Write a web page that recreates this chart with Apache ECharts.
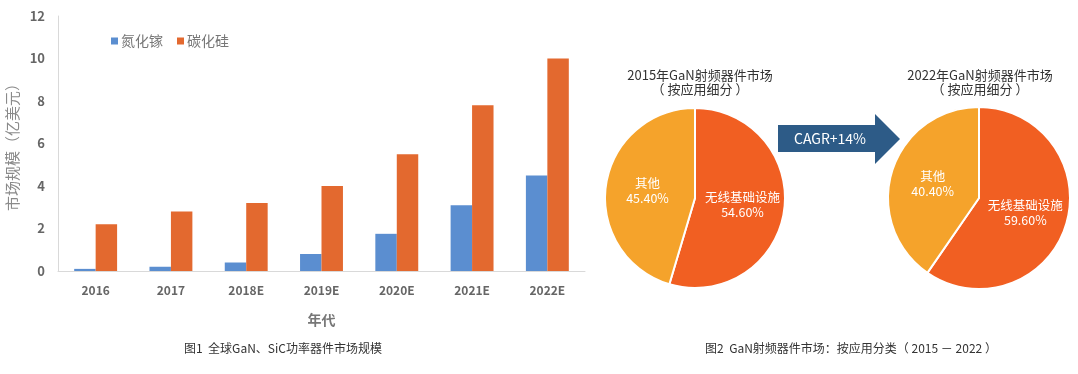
<!DOCTYPE html>
<html><head><meta charset="utf-8">
<script src="https://cdn.jsdelivr.net/npm/echarts@6/dist/echarts.min.js"></script>
<style>html,body{margin:0;padding:0;background:#fff}#c{width:1078px;height:374px}</style>
</head><body><div id="c"></div>
<script>
const categories = ['2016','2017','2018E','2019E','2020E','2021E','2022E'];
const ganValues = [0.1, 0.2, 0.4, 0.8, 1.75, 3.1, 4.5];
const sicValues = [2.2, 2.8, 3.2, 4.0, 5.5, 7.8, 10.0];
const seriesNames = ['氮化镓','碳化硅'];
const pie2015 = [{name:'无线基础设施', value:54.6},{name:'其他', value:45.4}];
const pie2022 = [{name:'无线基础设施', value:59.6},{name:'其他', value:40.4}];

const FONT = '"Noto Sans CJK SC", "Noto Sans", sans-serif';
const chart = echarts.init(document.getElementById('c'));
const pieLabel = {
  show:true, position:'inside', color:'#fff', fontSize:12.5, fontFamily:FONT, lineHeight:15,
  formatter: p => p.name + '\n' + p.value.toFixed(2) + '%'
};
chart.setOption({
  animation:false,
  textStyle:{fontFamily:FONT},
  title:[
    {text:'2015年GaN射频器件市场\n（ 按应用细分 ）', left:695, top:63, textAlign:'center',
     textStyle:{fontSize:13, fontWeight:'normal', color:'#333', lineHeight:14, fontFamily:FONT}},
    {text:'2022年GaN射频器件市场\n（ 按应用细分 ）', left:975, top:63, textAlign:'center',
     textStyle:{fontSize:13, fontWeight:'normal', color:'#333', lineHeight:14, fontFamily:FONT}},
    {text:'图1  全球GaN、SiC功率器件市场规模', left:278, top:337, textAlign:'center',
     textStyle:{fontSize:12, fontWeight:'normal', color:'#333', fontFamily:FONT}},
    {text:'图2  GaN射频器件市场：按应用分类（ 2015 － 2022 ）', left:846, top:337, textAlign:'center',
     textStyle:{fontSize:12, fontWeight:'normal', color:'#333', fontFamily:FONT}}
  ],
  legend:{
    data:seriesNames, left:106, top:29, itemWidth:7, itemHeight:7, itemGap:14,
    icon:'rect', textStyle:{fontSize:14, color:'#777', fontFamily:FONT, padding:[0,0,0,-2]}
  },
  grid:{left:58, top:16, width:527, height:255, containLabel:false},
  xAxis:{
    type:'category', data:categories,
    name:'年代', nameLocation:'middle', nameGap:42,
    nameTextStyle:{fontSize:14, fontWeight:'bold', color:'#777', fontFamily:FONT},
    axisLine:{lineStyle:{color:'#d9d9d9'}}, axisTick:{show:false},
    axisLabel:{fontSize:12, fontWeight:'bold', color:'#666', margin:13}
  },
  yAxis:{
    type:'value', min:0, max:12, interval:2,
    name:'市场规模（亿美元）', nameLocation:'middle', nameGap:38, nameRotate:90,
    nameTextStyle:{fontSize:15, color:'#8a8a8a', fontFamily:FONT},
    axisLine:{show:true, lineStyle:{color:'#d9d9d9'}}, axisTick:{show:false},
    splitLine:{show:false},
    axisLabel:{fontSize:13, fontWeight:'bold', color:'#666', margin:13}
  },
  graphic:[
    {type:'polygon', shape:{points:[[778,125],[875,125],[875,114],[900,139],[875,164],[875,152],[778,152]]},
     style:{fill:'#2D5B87'}},
    {type:'text', x:830, y:139, style:{text:'CAGR+14%', fill:'#fff', fontSize:14, fontFamily:FONT, align:'center', verticalAlign:'middle'}}
  ],
  series:[
    {type:'bar', name:seriesNames[0], data:ganValues, itemStyle:{color:'#5B8ED0'}, barGap:'0%', barCategoryGap:'43%'},
    {type:'bar', name:seriesNames[1], data:sicValues, itemStyle:{color:'#E3692F'}, barGap:'0%', barCategoryGap:'43%'},
    {type:'pie', center:[695,198], radius:90, startAngle:90, clockwise:true, data:pie2015,
     itemStyle:{borderColor:'#fff', borderWidth:2}, color:['#F15F22','#F5A32B'], label:pieLabel, labelLine:{show:false}},
    {type:'pie', center:[979,198], radius:91, startAngle:90, clockwise:true, data:pie2022,
     itemStyle:{borderColor:'#fff', borderWidth:2}, color:['#F15F22','#F5A32B'], label:pieLabel, labelLine:{show:false}}
  ]
});
</script></body></html>
